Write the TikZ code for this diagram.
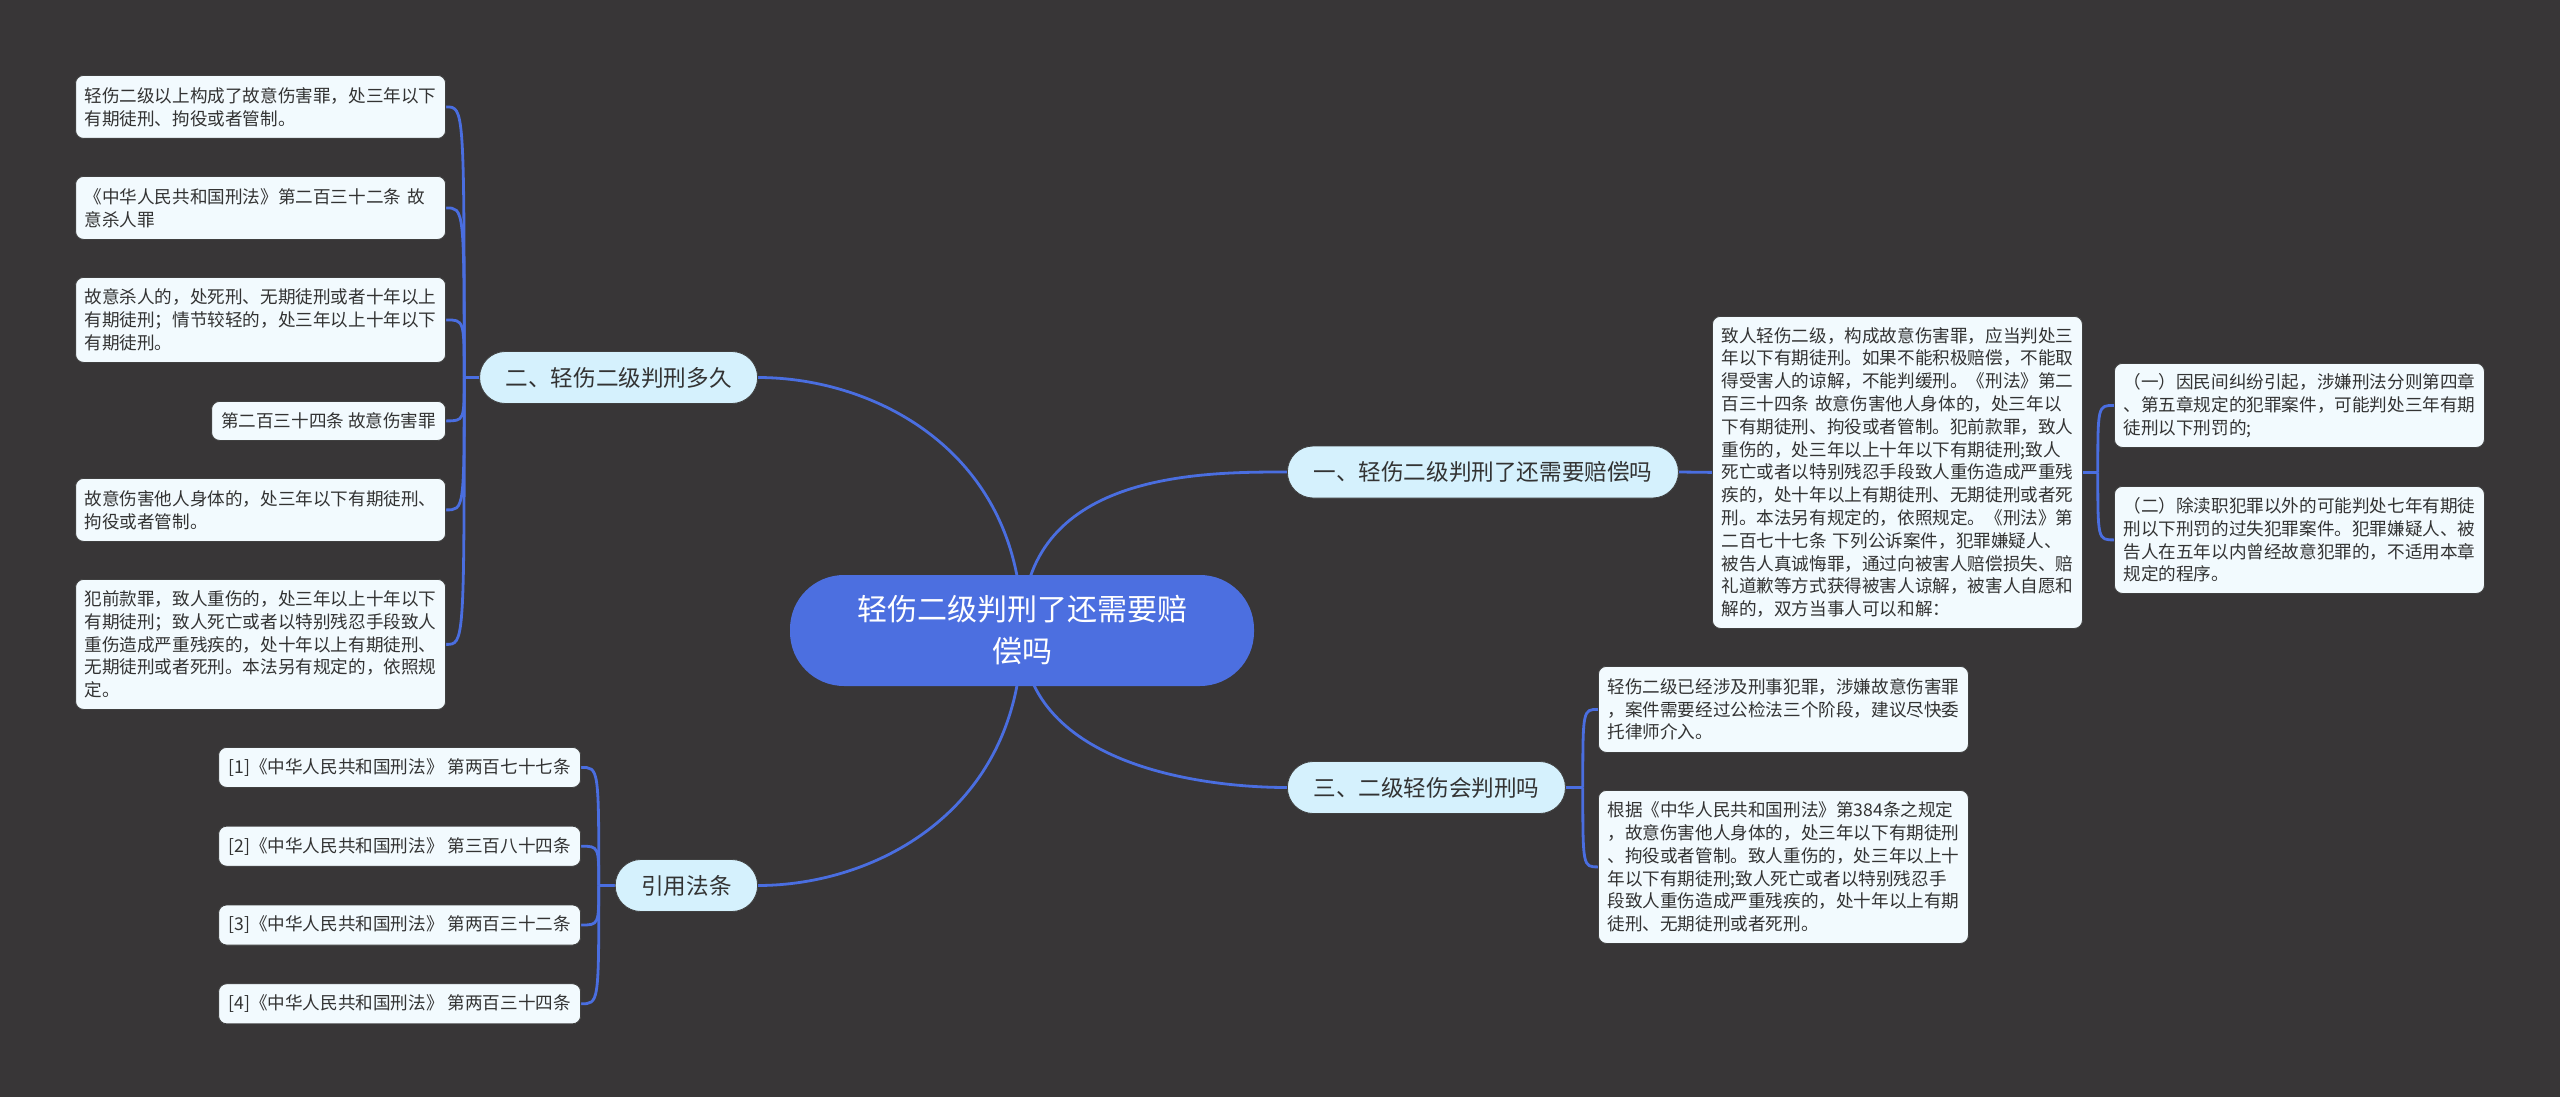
\documentclass[tikz,border=0pt]{standalone}
\usepackage{fontspec}
\newfontfamily\cjk{Noto Sans CJK SC}
\usetikzlibrary{positioning,calc,backgrounds}
\definecolor{bgdark}{HTML}{383637}
\definecolor{linkblue}{HTML}{4A6EE0}
\definecolor{rootblue}{HTML}{4C6FE0}
\definecolor{topicfill}{HTML}{D5F1FD}
\definecolor{leaffill}{HTML}{F2FAFE}
\definecolor{inkgray}{HTML}{333333}
\tikzset{
	root/.style={rectangle, rounded corners=27pt, fill=rootblue, text=white,
		font=\cjk\fontsize{15pt}{21pt}\selectfont, align=center,
		minimum width=232pt, minimum height=55.5pt, inner sep=0pt},
	topic/.style={rectangle, rounded corners=12.9pt, fill=topicfill, draw=black!75,
		line width=0.4pt, text=inkgray, font=\cjk\fontsize{11.3pt}{13pt}\selectfont,
		minimum height=26pt, inner xsep=13pt, inner ysep=0pt},
	leaf/.style={rectangle, rounded corners=4pt, fill=leaffill, draw=black!75,
		line width=0.4pt, text=inkgray, font=\cjk\fontsize{8.8pt}{11.4pt}\selectfont,
		align=left, text width=176pt, inner xsep=4.5pt, inner ysep=0pt},
	citebox/.style={rectangle, rounded corners=4pt, fill=leaffill, draw=black!75,
		line width=0.4pt, text=inkgray, font=\cjk\fontsize{8.8pt}{11.4pt}\selectfont,
		minimum width=181pt, minimum height=20pt, inner xsep=4.5pt, inner ysep=0pt},
	conn/.style={draw=linkblue, line width=1.4pt}
}
\begin{document}
\begin{tikzpicture}[x=0.5pt, y=-0.5pt]
	\useasboundingbox (0,0) rectangle (2560,1097);

	\node[root] (c) at (1022,630.5) {轻伤二级判刑了还需要赔\\偿吗};

	\node[topic, anchor=west] (b1) at (1287,472) {一、轻伤二级判刑了还需要赔偿吗};
	\node[topic, anchor=west] (b3) at (1287,787.5) {三、二级轻伤会判刑吗};
	\node[topic, anchor=east] (b2) at (758,377.5) {二、轻伤二级判刑多久};
	\node[topic, anchor=east] (b4) at (758,885.5) {引用法条};

	\node[leaf, anchor=north west, minimum height=156pt] (d1) at (1712,316) {致人轻伤二级，构成故意伤害罪，应当判处三\\年以下有期徒刑。如果不能积极赔偿，不能取\\得受害人的谅解，不能判缓刑。《刑法》第二\\百三十四条 故意伤害他人身体的，处三年以\\下有期徒刑、拘役或者管制。犯前款罪，致人\\重伤的，处三年以上十年以下有期徒刑;致人\\死亡或者以特别残忍手段致人重伤造成严重残\\疾的，处十年以上有期徒刑、无期徒刑或者死\\刑。本法另有规定的，依照规定。《刑法》第\\二百七十七条 下列公诉案件，犯罪嫌疑人、\\被告人真诚悔罪，通过向被害人赔偿损失、赔\\礼道歉等方式获得被害人谅解，被害人自愿和\\解的，双方当事人可以和解：};
	\node[leaf, anchor=north west, minimum height=42pt] (e1) at (2114,363) {（一）因民间纠纷引起，涉嫌刑法分则第四章\\、第五章规定的犯罪案件，可能判处三年有期\\徒刑以下刑罚的;};
	\node[leaf, anchor=north west, minimum height=53.5pt] (e2) at (2114,486) {（二）除渎职犯罪以外的可能判处七年有期徒\\刑以下刑罚的过失犯罪案件。犯罪嫌疑人、被\\告人在五年以内曾经故意犯罪的，不适用本章\\规定的程序。};

	\node[leaf, anchor=north west, minimum height=43pt] (f1) at (1598,666) {轻伤二级已经涉及刑事犯罪，涉嫌故意伤害罪\\，案件需要经过公检法三个阶段，建议尽快委\\托律师介入。};
	\node[leaf, anchor=north west, minimum height=76.5pt] (f2) at (1598,790) {根据《中华人民共和国刑法》第384条之规定\\，故意伤害他人身体的，处三年以下有期徒刑\\、拘役或者管制。致人重伤的，处三年以上十\\年以下有期徒刑;致人死亡或者以特别残忍手\\段致人重伤造成严重残疾的，处十年以上有期\\徒刑、无期徒刑或者死刑。};

	\node[leaf, anchor=north east, minimum height=31.5pt] (g1) at (446,75) {轻伤二级以上构成了故意伤害罪，处三年以下\\有期徒刑、拘役或者管制。};
	\node[leaf, anchor=north east, minimum height=31.5pt] (g2) at (446,176) {《中华人民共和国刑法》第二百三十二条 故\\意杀人罪};
	\node[leaf, anchor=north east, minimum height=42.5pt] (g3) at (446,277) {故意杀人的，处死刑、无期徒刑或者十年以上\\有期徒刑；情节较轻的，处三年以上十年以下\\有期徒刑。};
	\node[citebox, anchor=north east, minimum width=117pt, minimum height=19.5pt] (g4) at (446,401) {第二百三十四条 故意伤害罪};
	\node[leaf, anchor=north east, minimum height=31.5pt] (g5) at (446,478) {故意伤害他人身体的，处三年以下有期徒刑、\\拘役或者管制。};
	\node[leaf, anchor=north east, minimum height=65pt] (g6) at (446,579) {犯前款罪，致人重伤的，处三年以上十年以下\\有期徒刑；致人死亡或者以特别残忍手段致人\\重伤造成严重残疾的，处十年以上有期徒刑、\\无期徒刑或者死刑。本法另有规定的，依照规\\定。};

	\node[citebox, anchor=north east] (r1) at (581,747) {[1]《中华人民共和国刑法》 第两百七十七条};
	\node[citebox, below=19pt of r1] (r2) {[2]《中华人民共和国刑法》 第三百八十四条};
	\node[citebox, below=19pt of r2] (r3) {[3]《中华人民共和国刑法》 第两百三十二条};
	\node[citebox, below=19pt of r3] (r4) {[4]《中华人民共和国刑法》 第两百三十四条};

	\begin{scope}[on background layer]
		\fill[bgdark] (0,0) rectangle (2560,1097);
		\draw[conn] (c.center) .. controls ($(c.center)!.7!(c.center |- b2.east)$) and ($(b2.east)!.45!(b2.east -| c.center)$) .. (b2.east);
		\draw[conn] (c.center) .. controls ($(c.center)!.7!(c.center |- b4.east)$) and ($(b4.east)!.45!(b4.east -| c.center)$) .. (b4.east);
		\draw[conn] (c.center) .. controls (c.center |- b1.west) and ($(b1.west)!.33!(b1.west -| c.center)$) .. (b1.west);
		\draw[conn] (c.center) .. controls ($(c.center)!.85!(c.center |- b3.west)$) and ($(b3.west)!.33!(b3.west -| c.center)$) .. (b3.west);

		\draw[conn] (b1.east) -- (d1.west);
		\coordinate (j1) at ($(d1.east)+(15,0)$);
		\draw[conn] (d1.east) -- (j1);
		\foreach \n in {e1,e2}
			\draw[conn] (j1) .. controls (j1 |- \n.west) .. (\n.west);

		\coordinate (j3) at ($(b3.east)+(17,0)$);
		\draw[conn] (b3.east) -- (j3);
		\foreach \n in {f1,f2}
			\draw[conn] (j3) .. controls (j3 |- \n.west) .. (\n.west);

		\coordinate (j2) at ($(b2.west)+(-15,0)$);
		\draw[conn] (b2.west) -- (j2);
		\foreach \n in {g1,g2,g3,g4,g5,g6}
			\draw[conn] (j2) .. controls (j2 |- \n.east) .. (\n.east);

		\coordinate (j4) at ($(b4.west)+(-16,0)$);
		\draw[conn] (b4.west) -- (j4);
		\foreach \n in {r1,r2,r3,r4}
			\draw[conn] (j4) .. controls (j4 |- \n.east) .. (\n.east);
	\end{scope}
\end{tikzpicture}
\end{document}
